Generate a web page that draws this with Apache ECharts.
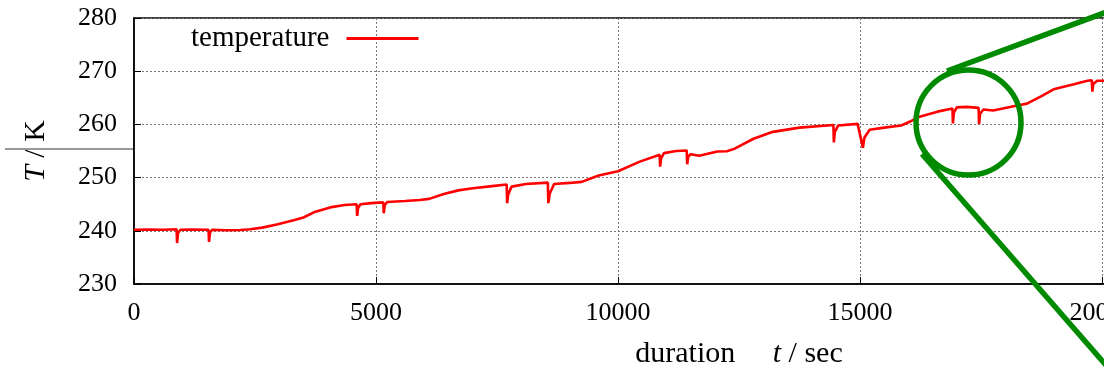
<!DOCTYPE html>
<html>
<head>
<meta charset="utf-8">
<script src="https://cdn.jsdelivr.net/npm/echarts@6/dist/echarts.min.js"></script>
<style>
  html, body { margin: 0; padding: 0; background: #fff; }
  #main { width: 1104px; height: 368px; }
</style>
</head>
<body>
<div id="main"></div>
<script>
// time in seconds, temperature in K
var times = [0, 300, 600, 880, 890, 910, 960, 1200, 1540, 1550, 1570, 1620, 1900, 2200,
  2400, 2650, 2950, 3300, 3500, 3750, 4050, 4350, 4600, 4610, 4630, 4680, 4900, 5150,
  5160, 5180, 5230, 5600, 5900, 6100, 6400, 6700, 7000, 7400, 7700, 7710, 7730, 7800,
  8100, 8550, 8560, 8590, 8680, 9000, 9250, 9600, 10000, 10450, 10860, 10870, 10890,
  10950, 11200, 11420, 11430, 11450, 11500, 11680, 12050, 12250, 12400, 12800, 13200,
  13750, 14450, 14460, 14480, 14550, 14950, 15060, 15090, 15200, 15500, 15850, 16050,
  16250, 16600, 16910, 16920, 16940, 17000, 17200, 17450, 17460, 17480, 17550, 17750,
  18000, 18300, 18450, 18750, 19000, 19400, 19700, 19790, 19800, 19820, 19900, 20200, 20600];
var temps = [240.2, 240.25, 240.2, 240.3, 237.7, 239.6, 240.2, 240.25, 240.2, 237.9, 239.7, 240.2, 240.1, 240.15,
  240.3, 240.6, 241.2, 242.0, 242.5, 243.6, 244.4, 244.85, 245.0, 242.8, 244.3, 245.0, 245.2, 245.35,
  243.3, 244.8, 245.4, 245.6, 245.8, 246.0, 246.9, 247.6, 248.0, 248.4, 248.7, 245.2, 246.8, 248.3,
  248.8, 249.05, 245.2, 247.0, 248.8, 249.0, 249.2, 250.4, 251.2, 253.0, 254.3, 252.05, 253.6,
  254.6, 255.0, 255.1, 252.5, 253.9, 254.4, 254.1, 254.9, 254.95, 255.4, 257.3, 258.6,
  259.4, 259.9, 256.6, 258.6, 259.8, 260.1, 255.6, 257.5, 259.0, 259.4, 259.8, 260.6,
  261.5, 262.4, 263.0, 260.2, 262.2, 263.2, 263.3, 263.1, 260.1, 262.0, 262.8, 262.6,
  263.1, 263.65, 263.9, 265.3, 266.6, 267.5, 268.2, 268.3, 266.15, 267.6, 268.2, 268.2, 268.3];

var xMin = 0, xMax = 25000, xStep = 5000;
var yMin = 230, yMax = 280, yStep = 10;

var font = 'Liberation Serif';
var green = '#008a00';

var chart = echarts.init(document.getElementById('main'));
var option = {
  animation: false,
  backgroundColor: '#fff',
  grid: {
    left: 134, top: 18, width: 1210, height: 266,
    outerBoundsMode: 'none', containLabel: false,
    show: true, borderColor: '#000', borderWidth: 1.5
  },
  legend: {
    left: 186, top: 19,
    align: 'right',
    icon: 'rect',
    itemWidth: 72, itemHeight: 3,
    textStyle: { fontFamily: font, fontSize: 29, color: '#000', padding: [0, 12, 0, 0] },
    data: ['temperature']
  },
  xAxis: {
    type: 'value', min: xMin, max: xMax, interval: xStep,
    axisLine: { lineStyle: { color: '#000', width: 1.5 } },
    axisTick: { inside: true, length: 7, lineStyle: { color: '#000' } },
    axisLabel: {
      fontFamily: font, fontSize: 26, color: '#000', margin: 16,
      formatter: function (v) { return String(v); }
    },
    splitLine: { lineStyle: { type: [2, 2], color: '#777', width: 1 } },
    name: 'duration     {i|t} / sec',
    nameLocation: 'middle', nameGap: 55,
    nameTextStyle: {
      fontFamily: font, fontSize: 30, color: '#000',
      rich: { i: { fontFamily: font, fontSize: 30, fontStyle: 'italic', color: '#000' } }
    }
  },
  yAxis: {
    type: 'value', min: yMin, max: yMax, interval: yStep,
    axisLine: { show: true, lineStyle: { color: '#000', width: 1.5 } },
    axisTick: { show: true, inside: true, length: 7, lineStyle: { color: '#000' } },
    axisLabel: { fontFamily: font, fontSize: 26, color: '#000', margin: 17 },
    splitLine: { lineStyle: { type: [2, 2], color: '#777', width: 1 } },
    name: '{i|T} / K',
    nameLocation: 'middle', nameRotate: 90, nameGap: 83,
    nameTextStyle: {
      fontFamily: font, fontSize: 30, color: '#000',
      rich: { i: { fontFamily: font, fontSize: 30, fontStyle: 'italic', color: '#000' } }
    }
  },
  series: [{
    name: 'temperature',
    type: 'line',
    symbol: 'none',
    data: times.map(function (t, i) { return [t, temps[i]]; }),
    lineStyle: { color: '#ff0000', width: 2.6 },
    itemStyle: { color: '#ff0000' }
  }],
  graphic: [
    { type: 'line', z: 10, shape: { x1: 5, y1: 149, x2: 133, y2: 149 }, style: { stroke: '#999', lineWidth: 2 } },
    { type: 'circle', z: 10, shape: { cx: 968.5, cy: 122.5, r: 52.5 }, style: { fill: 'none', stroke: green, lineWidth: 5.5 } },
    { type: 'line', z: 10, shape: { x1: 947, y1: 71, x2: 1112, y2: 10 }, style: { stroke: green, lineWidth: 5.5 } },
    { type: 'line', z: 10, shape: { x1: 922, y1: 154, x2: 1112, y2: 372 }, style: { stroke: green, lineWidth: 5.5 } }
  ]
};
chart.setOption(option);
</script>
</body>
</html>
